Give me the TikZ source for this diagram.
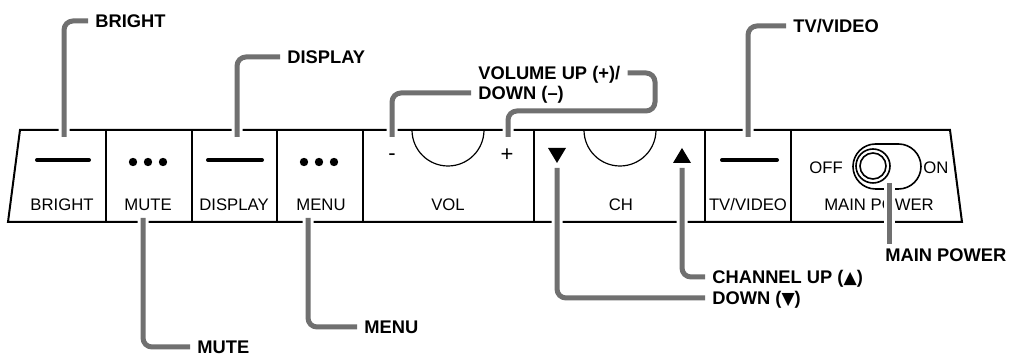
\documentclass[tikz,border=0pt]{standalone}
\usepackage{fontspec}
\setmainfont{Liberation Sans}
\newfontfamily\shapefont{DejaVu Sans}
\definecolor{leadgray}{RGB}{112,112,112}
\usetikzlibrary{calc}

\begin{document}
\begin{tikzpicture}[x=0.5pt, y=-0.5pt,
  panelline/.style={line width=1pt},
  thinline/.style={line width=0.6pt},
  leader/.style={draw=leadgray, line width=2.5pt, rounded corners=4.5pt, preaction={draw=white, line width=5.5pt}},
  callout/.style={anchor=west, inner xsep=3.5pt, inner ysep=2pt, text height=6.55pt, text depth=0pt, font=\bfseries\fontsize{9.15}{11}\selectfont},
  paneltext/.style={inner sep=0pt, text height=6pt, text depth=0pt, font=\fontsize{8.35}{10}\selectfont},
  signtext/.style={inner sep=0pt, font=\fontsize{11}{12}\selectfont},
  bar/.style={line width=2pt, line cap=round},
  dot/.style={circle, fill, inner sep=0pt, minimum size=4.2pt}]
  \useasboundingbox (0,0) rectangle (1009,357);

  %% Panel outline and dividers
  \draw[panelline] (20,130) -- (950,130) -- (962,222) -- (8,222) -- cycle;
  \foreach \x in {106,192,277,363,534,705,791}
    \draw[panelline] (\x,130) -- (\x,222);

  %% Buttons
  \draw[bar] (37,160) -- (89,160);
  \draw[bar] (208,160) -- (262,160);
  \draw[bar] (722,160) -- (777,160);
  \foreach \x in {133,148,163,304,319,334}
    \node[dot] (dot\x) at (\x,162) {};

  %% Knobs
  \draw[thinline] (412,130) arc[start angle=180, end angle=0, radius=36];
  \draw[thinline] (584,130) arc[start angle=180, end angle=0, radius=36];
  \fill (548,148) -- (566,148) -- (557,163) -- cycle;
  \fill (673,163) -- (691,163) -- (682,148) -- cycle;

  %% Power switch
  \draw[line width=0.8pt, rounded corners=11.25pt] (853,144) rectangle (921,189);
  \draw[line width=0.8pt] (873,166) circle[radius=17];
  \draw[line width=0.8pt] (873,166) circle[radius=13];

  %% Panel texts
  \node[paneltext] (brighttxt) at (62,205)  {BRIGHT};
  \node[paneltext] (mutetxt)   at (148,205) {MUTE};
  \node[paneltext] (disptxt)   at (234,205) {DISPLAY};
  \node[paneltext] (menutxt)   at (321,205) {MENU};
  \node[paneltext] (voltxt)    at (448,205) {VOL};
  \node[paneltext] (chtxt)     at (621,205) {CH};
  \node[paneltext] (tvtxt)     at (748,205) {TV/VIDEO};
  \node[paneltext] (pwrtxt)    at (879,205) {MAIN POWER};
  \node[signtext]  (minustxt)  at (392,157) {-};
  \node[signtext]  (plustxt)   at (507,155) {+};
  \node[paneltext] (offtxt)    at (826,168) {OFF};
  \node[paneltext] (ontxt)     at (936,168) {ON};

  %% Leader start points
  \coordinate (brightpt) at (64,137);
  \coordinate (disppt)   at (237,137);
  \coordinate (volminus) at (392,137);
  \coordinate (volplus)  at (508,137);
  \coordinate (volbend)  at (655,111);
  \coordinate (tvpt)     at (748,137);
  \coordinate (mutept)   at (143,218);
  \coordinate (menupt)   at (308,218);
  \coordinate (chdnpt)   at (557,168);
  \coordinate (chuppt)   at (682,168);
  \coordinate (pwrpt)    at (889,183);

  %% Callouts
  \node[callout] (brightlbl) at (88,21)   {BRIGHT};
  \node[callout] (displbl)   at (280,57)  {DISPLAY};
  \node[callout] (volup)     at (471,73)  {VOLUME UP (+)/};
  \node[callout] (voldown)   at (471,93)  {DOWN (–)};
  \node[callout] (tvlbl)     at (786,26)  {TV/VIDEO};
  \node[callout] (mutelbl)   at (190,347) {MUTE};
  \node[callout] (menulbl)   at (357,327) {MENU};
  \node[callout] (chuplbl)   at (705,277) {CHANNEL UP ({\shapefont\fontsize{8.6}{10}\selectfont ▲})};
  \node[callout] (chdnlbl)   at (705,298) {DOWN ({\shapefont\fontsize{8.6}{10}\selectfont ▼})};
  \node[callout] (pwrlbl)    at (878,255) {MAIN POWER};

  %% Leaders
  \draw[leader] (brightpt) |- (brightlbl.west);
  \draw[leader] (disppt) |- (displbl.west);
  \draw[leader] (volminus) |- (voldown.west);
  \draw[leader] (volplus) |- (volbend) |- (volup.east);
  \draw[leader] (tvpt) |- (tvlbl.west);
  \draw[leader] (mutept) |- (mutelbl.west);
  \draw[leader] (menupt) |- (menulbl.west);
  \draw[leader] (chdnpt) |- (chdnlbl.west);
  \draw[leader] (chuppt) |- (chuplbl.west);
  \draw[leader] (pwrpt) -- (pwrpt |- pwrlbl.north);
\end{tikzpicture}
\end{document}
